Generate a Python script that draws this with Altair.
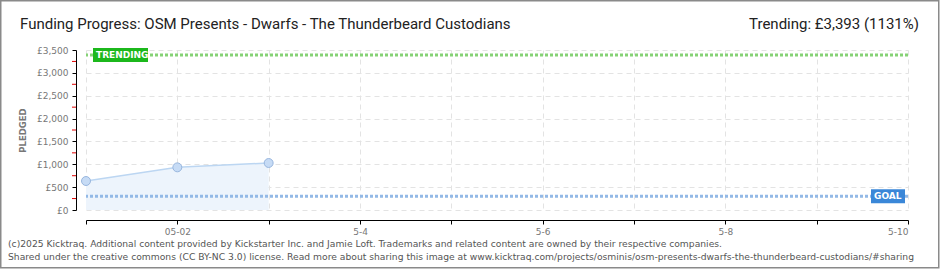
import altair as alt
import pandas as pd

# ---- data ----
days = [1, 2, 3]                 # May 1..3
pledged = [634, 933, 1028]       # GBP
goal_value = [300]
trend_value = [3393]
minor_ticks = [250, 750, 1250, 1750, 2250, 2750, 3250]
y_ticks = [0, 500, 1000, 1500, 2000, 2500, 3000, 3500]
x_ticks = [1, 2, 3, 4, 5, 6, 7, 8, 9, 10]

title_text = "Funding Progress: OSM Presents - Dwarfs - The Thunderbeard Custodians"
trend_text = "Trending:  £3,393 (1131%)"
footer1 = "(c)2025 Kicktraq. Additional content provided by Kickstarter Inc. and Jamie Loft. Trademarks and related content are owned by their respective companies."
footer2 = "Shared under the creative commons (CC BY-NC 3.0) license. Read more about sharing this image at www.kicktraq.com/projects/osminis/osm-presents-dwarfs-the-thunderbeard-custodians/#sharing"

W, H = 822, 160

df = pd.DataFrame({"day": days, "pledged": pledged})
one = pd.DataFrame({"a": [0]})

xscale = alt.Scale(domain=[1, 10], nice=False, zero=False)
yscale = alt.Scale(domain=[0, 3500], nice=False)

x_axis = alt.Axis(
    values=x_ticks, offset=10, domainColor="#000", tickColor="#000", tickSize=4,
    labelExpr="datum.value == 2 ? '05-02' : (datum.value % 2 == 0 ? '5-' + datum.value : '')",
    labelColor="#777", labelFont="DejaVu Sans", labelFontSize=9, labelPadding=3,
    labelOverlap=False,
    grid=True, gridColor="#e3e3e3", gridDash=[5, 4], title=None,
)
y_axis = alt.Axis(
    values=y_ticks, offset=10, domainColor="#000", tickColor="#000", tickSize=4,
    labelExpr="'£' + format(datum.value, ',')",
    labelColor="#777", labelFont="DejaVu Sans", labelFontSize=9, labelPadding=4,
    labelOverlap=False, labelBound=False, labelFlush=False,
    grid=True, gridColor="#e3e3e3", gridDash=[5, 4],
    title="PLEDGED", titleColor="#777", titleFont="DejaVu Sans", titleFontSize=8.5,
    titleFontWeight="bold", titleAngle=-90, titleX=-54, titleY=80,
    titleAlign="center", titleBaseline="middle",
)


def Y(field):
    return alt.Y(field, scale=yscale, axis=y_axis)


def X(field):
    return alt.X(field, scale=xscale, axis=x_axis)


base = alt.Chart(df)

area = base.mark_area(color="#edf4fc", opacity=1).encode(x=X("day:Q"), y=Y("pledged:Q"))
line = base.mark_line(color="#bcd6f2", strokeWidth=1.5).encode(x=X("day:Q"), y=Y("pledged:Q"))
points = base.mark_point(filled=True, size=80, fill="#c6dbf5", stroke="#98b6de",
                         strokeWidth=1, opacity=1).encode(x=X("day:Q"), y=Y("pledged:Q"))

goal_df = pd.DataFrame({"v": goal_value})
trend_df = pd.DataFrame({"v": trend_value})

goal_rule = alt.Chart(goal_df).mark_rule(color="#93b9e6", strokeWidth=3, strokeDash=[3, 2]).encode(
    y=Y("v:Q")
)
trend_rule = alt.Chart(trend_df).mark_rule(color="#86d276", strokeWidth=3, strokeDash=[3, 2]).encode(
    y=Y("v:Q")
)

trend_box = alt.Chart(trend_df).mark_point(
    shape="M-1,-0.2545L1,-0.2545L1,0.2545L-1,0.2545Z", size=55 * 55, filled=True,
    fill="#1cb81c", opacity=1, strokeWidth=0
).encode(x=alt.value(34.5), y=Y("v:Q"))
trend_lbl = alt.Chart(trend_df).mark_text(
    text="TRENDING", color="white", font="DejaVu Sans", fontSize=9, fontWeight="bold",
    align="left", baseline="middle", dx=0
).encode(x=alt.value(10), y=Y("v:Q"))

goal_box = alt.Chart(goal_df).mark_point(
    shape="M-1,-0.412L1,-0.412L1,0.412L-1,0.412Z", size=34 * 34, filled=True,
    fill="#3a87d8", opacity=1, strokeWidth=0
).encode(x=alt.value(802), y=Y("v:Q"))
goal_lbl = alt.Chart(goal_df).mark_text(
    text="GOAL", color="white", font="DejaVu Sans", fontSize=9, fontWeight="bold",
    align="left", baseline="middle"
).encode(x=alt.value(788), y=Y("v:Q"))

minor = alt.Chart(pd.DataFrame({"m": minor_ticks})).mark_rule(color="#e00000", strokeWidth=1).encode(
    y=Y("m:Q"), x=alt.value(-14), x2=alt.value(-10)
)

frame = alt.Chart(one).mark_rect(fill="transparent", stroke="#8a8a8a", strokeWidth=1.5).encode(
    x=alt.value(-85.25), x2=alt.value(852.75), y=alt.value(-49.25), y2=alt.value(217.75)
)

title = alt.Chart(one).mark_text(
    text=title_text, font="Roboto", fontSize=15, color="#222", align="left", baseline="alphabetic"
).encode(x=alt.value(-66), y=alt.value(-21))
trend_t = alt.Chart(one).mark_text(
    text=trend_text, font="Roboto", fontSize=15, color="#222", align="right", baseline="alphabetic"
).encode(x=alt.value(833), y=alt.value(-21))
foot1 = alt.Chart(one).mark_text(
    text=footer1, font="DejaVu Sans", fontSize=9.2, color="#555", align="left", baseline="middle"
).encode(x=alt.value(-78), y=alt.value(194))
foot2 = alt.Chart(one).mark_text(
    text=footer2, font="DejaVu Sans", fontSize=9.2, color="#555", align="left", baseline="middle"
).encode(x=alt.value(-78), y=alt.value(207))

chart = alt.layer(
    area, line, goal_rule, trend_rule, points, trend_box, trend_lbl, goal_box, goal_lbl,
    minor, frame, title, trend_t, foot1, foot2
).properties(
    width=W, height=H,
    padding={"left": 86, "top": 50, "right": 32, "bottom": 60},
    autosize=alt.AutoSizeParams(type="none"),
    background="white",
).configure_view(stroke=None)

chart.save("out.html", embed_options={"renderer": "svg", "actions": False})
